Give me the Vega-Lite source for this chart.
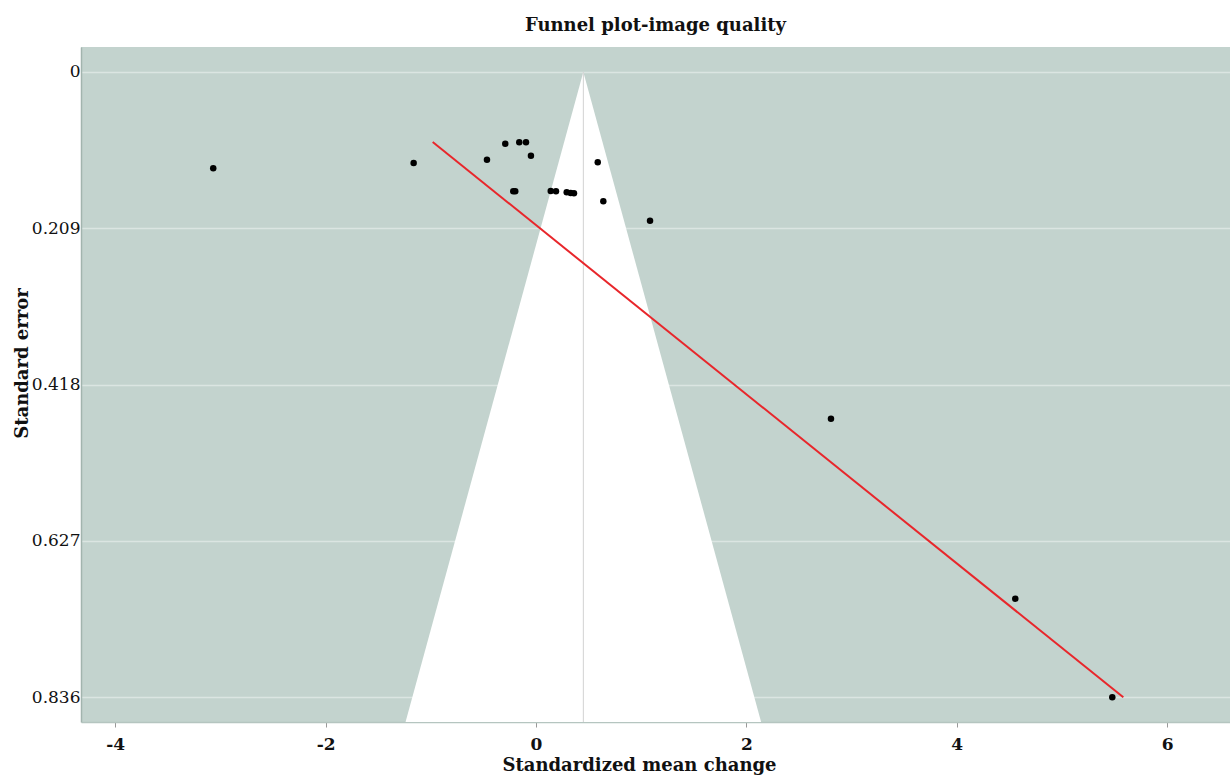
{
  "$schema": "https://vega.github.io/schema/vega-lite/v6.json",
  "autosize": {"type": "none"},
  "padding": {"left": 81, "top": 47, "right": 0, "bottom": 60},
  "width": 1149,
  "height": 675,
  "background": "white",
  "title": {
    "text": "Funnel plot-image quality",
    "font": "DejaVu Serif",
    "fontSize": 18,
    "fontWeight": "bold",
    "color": "#111111",
    "anchor": "middle",
    "offset": 12
  },
  "config": {
    "view": {"fill": "#c3d3ce", "stroke": null},
    "axis": {"labelFont": "DejaVu Serif", "titleFont": "DejaVu Serif"}
  },
  "datasets": {
    "funnel": [
      {"se": 0, "x": 0.45, "x2": 0.45},
      {"se": 0.8694, "x": -1.24, "x2": 2.14}
    ],
    "center": [
      {"x": 0.45, "se": 0, "se2": 0.8694}
    ],
    "fit": [
      {"x": -0.982, "se": 0.0937},
      {"x": 5.583, "se": 0.8364}
    ],
    "studies": [
      {"x": -3.068, "se": 0.1288},
      {"x": -1.163, "se": 0.1217},
      {"x": -0.466, "se": 0.1173},
      {"x": -0.292, "se": 0.0959},
      {"x": -0.159, "se": 0.094},
      {"x": -0.095, "se": 0.094},
      {"x": -0.048, "se": 0.112},
      {"x": -0.216, "se": 0.1596},
      {"x": -0.197, "se": 0.1596},
      {"x": 0.14, "se": 0.1592},
      {"x": 0.19, "se": 0.1596},
      {"x": 0.292, "se": 0.161},
      {"x": 0.33, "se": 0.1619},
      {"x": 0.361, "se": 0.1623},
      {"x": 0.587, "se": 0.1208},
      {"x": 0.64, "se": 0.173},
      {"x": 1.084, "se": 0.1989},
      {"x": 2.804, "se": 0.4637},
      {"x": 4.556, "se": 0.7045},
      {"x": 5.478, "se": 0.8364}
    ]
  },
  "layer": [
    {
      "data": {"name": "funnel"},
      "mark": {"type": "area", "orient": "horizontal", "fill": "white", "opacity": 1},
      "encoding": {
        "y": {
          "field": "se", "type": "quantitative", "title": "Standard error",
          "scale": {"domain": [-0.0334, 0.8694], "reverse": true, "nice": false, "zero": false},
          "axis": {
            "values": [0, 0.209, 0.418, 0.627, 0.836],
            "format": ".3~f",
            "grid": true, "gridColor": "#dbe5e2", "gridWidth": 1.5,
            "ticks": false,
            "domain": true, "domainColor": "#a2b4ae", "domainWidth": 1.5,
            "labelFontSize": 17, "labelColor": "#111111", "labelPadding": 1,
            "labelBaseline": "middle",
            "titleFontSize": 18, "titleFontWeight": "bold", "titleColor": "#111111",
            "titleX": -59, "titleY": 316, "titleAngle": -90,
            "titleAlign": "center", "titleBaseline": "middle"
          }
        },
        "x": {
          "field": "x", "type": "quantitative", "title": "Standardized mean change",
          "scale": {"domain": [-4.325, 6.597], "nice": false, "zero": false},
          "axis": {
            "values": [-4, -2, 0, 2, 4, 6],
            "labelExpr": "datum.value + ''",
            "grid": false,
            "ticks": true, "tickColor": "#999999", "tickSize": 5,
            "domain": true, "domainColor": "#b5c5c0", "domainWidth": 1.5,
            "labelFontSize": 17, "labelFontWeight": "bold", "labelColor": "#111111",
            "labelPadding": 9,
            "titleFontSize": 18, "titleFontWeight": "bold", "titleColor": "#111111",
            "titlePadding": 4, "titleX": 558, "titleAlign": "center"
          }
        },
        "x2": {"field": "x2"}
      }
    },
    {
      "data": {"name": "center"},
      "mark": {"type": "rule", "color": "#d2d2d2", "strokeWidth": 1},
      "encoding": {
        "x": {"field": "x", "type": "quantitative", "title": "Standardized mean change"},
        "y": {"field": "se", "type": "quantitative", "title": "Standard error"},
        "y2": {"field": "se2"}
      }
    },
    {
      "data": {"name": "fit"},
      "mark": {"type": "line", "color": "#e8262b", "strokeWidth": 2},
      "encoding": {
        "x": {"field": "x", "type": "quantitative", "title": "Standardized mean change"},
        "y": {"field": "se", "type": "quantitative", "title": "Standard error"}
      }
    },
    {
      "data": {"name": "studies"},
      "mark": {"type": "circle", "color": "#000000", "opacity": 1, "size": 42},
      "encoding": {
        "x": {"field": "x", "type": "quantitative", "title": "Standardized mean change"},
        "y": {"field": "se", "type": "quantitative", "title": "Standard error"}
      }
    }
  ]
}
